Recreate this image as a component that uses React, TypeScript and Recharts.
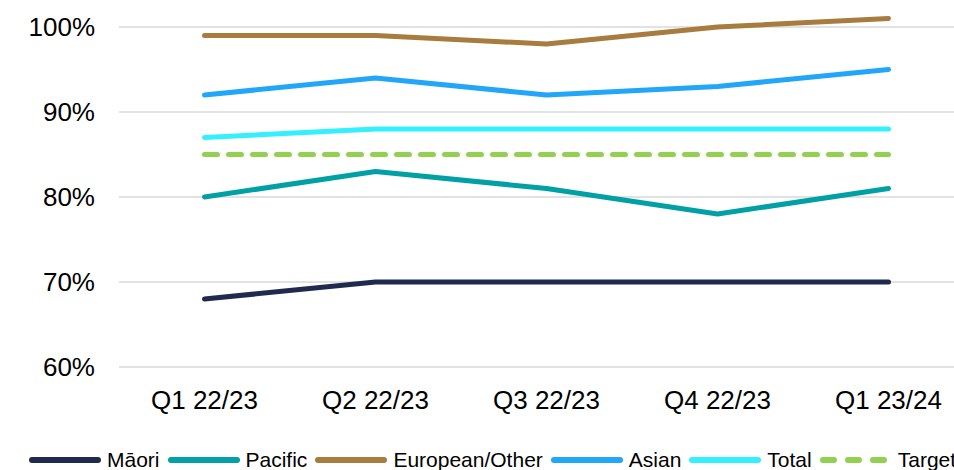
import React from 'react';
import { LineChart, Line, XAxis, YAxis, CartesianGrid, Legend } from 'recharts';

const categories = ['Q1 22/23', 'Q2 22/23', 'Q3 22/23', 'Q4 22/23', 'Q1 23/24'];
const maori = [68, 70, 70, 70, 70];
const pacific = [80, 83, 81, 78, 81];
const european = [99, 99, 98, 100, 101];
const asian = [92, 94, 92, 93, 95];
const total = [87, 88, 88, 88, 88];
const target = [85, 85, 85, 85, 85];
const yTicks = [60, 70, 80, 90, 100];

const series = [
  { key: 'maori', name: 'Māori', color: '#1F2A4E', dash: undefined as string | undefined },
  { key: 'pacific', name: 'Pacific', color: '#00A0A4', dash: undefined },
  { key: 'european', name: 'European/Other', color: '#A87B3E', dash: undefined },
  { key: 'asian', name: 'Asian', color: '#22A6F7', dash: undefined },
  { key: 'total', name: 'Total', color: '#33F0FC', dash: undefined },
  { key: 'target', name: 'Target', color: '#92D050', dash: '13 11' },
];

const data = categories.map((c, i) => ({
  cat: c,
  maori: maori[i],
  pacific: pacific[i],
  european: european[i],
  asian: asian[i],
  total: total[i],
  target: target[i],
}));

const FONT = '"Liberation Sans", Arial, sans-serif';

const renderLegend = () => (
  <div style={{ display: 'flex', alignItems: 'center', height: 30, whiteSpace: 'nowrap', fontFamily: FONT, fontSize: 21, color: '#000' }}>
    {series.map((s) => (
      <div key={s.key} style={{ display: 'flex', alignItems: 'center', marginRight: 8 }}>
        <svg width={78} height={10} style={{ display: 'block', flex: '0 0 auto' }}>
          <line x1={3} y1={5} x2={69} y2={5} stroke={s.color} strokeWidth={6} strokeLinecap="round" strokeDasharray={s.dash ? '11 14' : undefined} />
        </svg>
        <span>{s.name}</span>
      </div>
    ))}
  </div>
);

export default function App() {
  return (
    <div style={{ position: 'fixed', left: 0, top: 0, width: 954, height: 470, overflow: 'hidden', background: '#fff' }}>
      <LineChart width={990} height={470} data={data} margin={{ top: 10, right: 16, left: 0, bottom: 0 }}>
        <CartesianGrid vertical={false} stroke="#D9D9D9" strokeWidth={1.5} horizontalValues={yTicks} />
        <XAxis
          dataKey="cat"
          axisLine={false}
          tickLine={false}
          tickSize={0}
          tickMargin={24}
          height={73}
          interval={0}
          padding={{ left: 85.5, right: 85.5 }}
          tick={{ fontSize: 26, fill: '#000', fontFamily: FONT }}
        />
        <YAxis
          domain={[60, 102]}
          ticks={yTicks}
          allowDataOverflow
          axisLine={false}
          tickLine={false}
          tickSize={0}
          tickMargin={24}
          width={119}
          tickFormatter={(v: number) => `${v}%`}
          tick={{ fontSize: 26, fill: '#000', fontFamily: FONT }}
        />
        <Legend
          content={renderLegend}
          wrapperStyle={{ left: 29, top: 445, height: 30, width: 'auto' }}
        />
        {series.map((s) => (
          <Line
            key={s.key}
            type="linear"
            dataKey={s.key}
            name={s.name}
            stroke={s.color}
            strokeWidth={5}
            strokeDasharray={s.dash}
            strokeLinecap="round"
            strokeLinejoin="round"
            dot={false}
            activeDot={false}
            isAnimationActive={false}
          />
        ))}
      </LineChart>
    </div>
  );
}
